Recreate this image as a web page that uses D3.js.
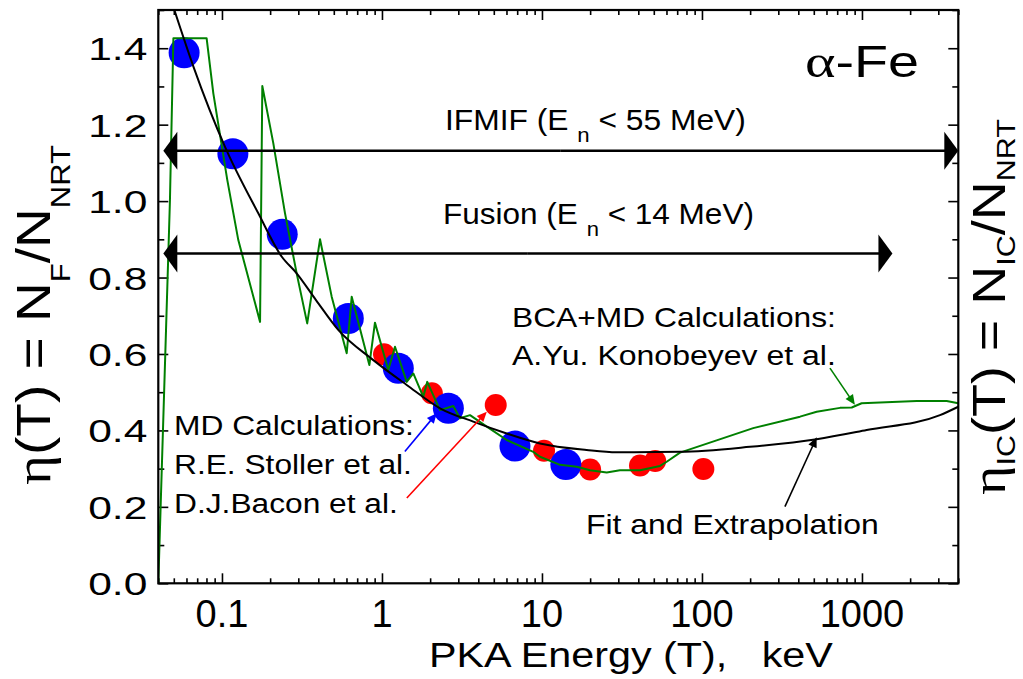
<!DOCTYPE html>
<html><head><meta charset="utf-8">
<script src="https://cdn.jsdelivr.net/npm/d3@7"></script>
<style>html,body{margin:0;padding:0;background:#fff;}svg{display:block;}</style>
</head><body>
<script>
// ---------------- data ----------------
const xDomain = [0.04, 4000];
const yDomain = [0, 1.5];
const xTickValues = [0.1, 1, 10, 100, 1000];
const xTickLabels = ["0.1", "1", "10", "100", "1000"];
const yTickValues = [0, 0.2, 0.4, 0.6, 0.8, 1.0, 1.2, 1.4];
const yTickLabels = ["0.0", "0.2", "0.4", "0.6", "0.8", "1.0", "1.2", "1.4"];
const yMinorValues = [0.1, 0.3, 0.5, 0.7, 0.9, 1.1, 1.3, 1.5];

// MD calculations, R.E. Stoller et al. (blue)
const stollerE   = [0.058, 0.117, 0.238, 0.616, 1.265, 2.60, 6.78, 14.1];
const stollerEta = [1.388, 1.124, 0.913, 0.693, 0.5625, 0.458, 0.359, 0.311];
// MD calculations, D.J. Bacon et al. (red)
const baconE   = [1.03, 2.05, 5.14, 10.3, 20, 41, 51, 102];
const baconEta = [0.599, 0.497, 0.4665, 0.347, 0.298, 0.308, 0.320, 0.299];
// BCA+MD calculations, A.Yu. Konobeyev et al. (green)
const konoE = [0.04, 0.0447, 0.0473, 0.0497, 0.0802, 0.0883, 0.108, 0.1265, 0.173, 0.1787,
  0.2094, 0.2478, 0.293, 0.341, 0.410, 0.485, 0.602, 0.647, 0.834, 0.904,
  1.095, 1.206, 1.428, 1.570, 1.812, 1.919, 2.305, 2.79, 3.07, 3.55,
  4.52, 6.02, 8.83, 9.72, 12.97, 16.5, 19.95, 25.4, 30.7, 41.0,
  54.7, 60.2, 72.9, 209, 410, 521, 729, 863, 995, 2198, 3385, 4000];
const konoEta = [0, 0.663, 1.002, 1.426, 1.426, 1.282, 1.055, 0.898, 0.684, 1.301,
  1.151, 0.968, 0.811, 0.680, 0.900, 0.750, 0.602, 0.750, 0.571, 0.682,
  0.558, 0.619, 0.527, 0.549, 0.488, 0.527, 0.453, 0.464, 0.432, 0.440,
  0.410, 0.375, 0.344, 0.331, 0.310, 0.305, 0.296, 0.290, 0.296, 0.296,
  0.307, 0.318, 0.342, 0.406, 0.436, 0.449, 0.459, 0.460, 0.471, 0.477, 0.477, 0.471];
// Fit and extrapolation (black)
const fitE   = [0.0504, 0.0663, 0.1045, 0.1687, 0.236, 0.293, 0.387, 0.533, 0.883, 1.428,
  2.305, 3.72, 6.02, 9.72, 19.0, 29.3, 72.9, 199.5, 521, 1070, 3074, 4000];
const fitEta = [1.500, 1.352, 1.142, 0.968, 0.855, 0.811, 0.741, 0.663, 0.584, 0.519,
  0.458, 0.423, 0.392, 0.366, 0.349, 0.343, 0.344, 0.357, 0.377, 0.401, 0.440, 0.462];

// range arrows
const ifmifE = [0.043, 4000], ifmifEta = 1.132;
const fusionE = [0.043, 1550], fusionEta = 0.863;

// annotation pointer arrows [E0, eta0, E1, eta1]
const pointerStoller = [1.39, 0.345, 2.20, 0.445];
const pointerBacon = [1.43, 0.223, 4.52, 0.449];
const pointerKono = [631, 0.563, 903, 0.467];
const pointerFit = [330, 0.2006, 521, 0.382];

// ---------------- drawing ----------------
const W = 1023, H = 679;
const FONT = "'Liberation Sans', Arial, Helvetica, sans-serif";
const SERIF = "'Liberation Serif', 'Times New Roman', serif";
const L = 158.3, R = 958.3, T = 10, B = 583.3;

const svg = d3.select("body").append("svg").attr("width", W).attr("height", H)
  .attr("font-family", FONT);

const x = d3.scaleLog().domain(xDomain).range([L, R]);
const y = d3.scaleLinear().domain(yDomain).range([B, T]);

svg.append("defs").append("clipPath").attr("id", "clip")
  .append("rect").attr("x", L).attr("y", T).attr("width", R - L).attr("height", B - T);

// axes ticks (inward)
const xMinor = x.ticks().filter(v => Math.abs(Math.log10(v) - Math.round(Math.log10(v))) > 1e-6);
function styleAxis(g) { g.select(".domain").remove(); g.selectAll("line").attr("stroke", "#000").attr("stroke-width", 1.6); }
svg.append("g").attr("transform", `translate(0,${B})`).call(d3.axisTop(x).tickValues(xTickValues).tickSize(10).tickFormat("")).call(styleAxis);
svg.append("g").attr("transform", `translate(0,${B})`).call(d3.axisTop(x).tickValues(xMinor).tickSize(5).tickFormat("")).call(styleAxis);
svg.append("g").attr("transform", `translate(0,${T})`).call(d3.axisBottom(x).tickValues(xTickValues).tickSize(10).tickFormat("")).call(styleAxis);
svg.append("g").attr("transform", `translate(0,${T})`).call(d3.axisBottom(x).tickValues(xMinor).tickSize(5).tickFormat("")).call(styleAxis);
svg.append("g").attr("transform", `translate(${L},0)`).call(d3.axisRight(y).tickValues(yTickValues).tickSize(10).tickFormat("")).call(styleAxis);
svg.append("g").attr("transform", `translate(${L},0)`).call(d3.axisRight(y).tickValues(yMinorValues).tickSize(6).tickFormat("")).call(styleAxis);
svg.append("g").attr("transform", `translate(${R},0)`).call(d3.axisLeft(y).tickValues(yTickValues).tickSize(10).tickFormat("")).call(styleAxis);
svg.append("g").attr("transform", `translate(${R},0)`).call(d3.axisLeft(y).tickValues(yMinorValues).tickSize(6).tickFormat("")).call(styleAxis);

// tick labels
svg.append("g").selectAll("text").data(xTickValues).join("text")
  .attr("x", d => x(d)).attr("y", B + 44).attr("text-anchor", "middle")
  .attr("font-size", 38).text((d, i) => xTickLabels[i]);
svg.append("g").selectAll("text").data(yTickValues).join("text")
  .attr("text-anchor", "end").attr("font-size", 32)
  .attr("transform", d => `translate(${L - 11},${y(d) + 12}) scale(1.33,1)`)
  .text((d, i) => yTickLabels[i]);

// data marks
const plot = svg.append("g");
plot.selectAll("circle.bacon").data(baconE).join("circle").attr("class", "bacon")
  .attr("cx", d => x(d)).attr("cy", (d, i) => y(baconEta[i])).attr("r", 11).attr("fill", "#ff0000");
plot.selectAll("circle.stoller").data(stollerE).join("circle").attr("class", "stoller")
  .attr("cx", d => x(d)).attr("cy", (d, i) => y(stollerEta[i])).attr("r", 15.5).attr("fill", "#0000ff");

const lines = svg.append("g").attr("clip-path", "url(#clip)");
lines.append("path").datum(konoE.map((e, i) => [e, konoEta[i]]))
  .attr("d", d3.line().x(d => x(d[0])).y(d => y(d[1])))
  .attr("fill", "none").attr("stroke", "#008000").attr("stroke-width", 2).attr("stroke-linejoin", "round");
lines.append("path").datum(fitE.map((e, i) => [e, fitEta[i]]))
  .attr("d", d3.line().x(d => x(d[0])).y(d => y(d[1])).curve(d3.curveMonotoneX))
  .attr("fill", "none").attr("stroke", "#000").attr("stroke-width", 2);

// frame
svg.append("rect").attr("x", L).attr("y", T).attr("width", R - L).attr("height", B - T)
  .attr("fill", "none").attr("stroke", "#000").attr("stroke-width", 2.2);

// arrows
function arrow(x1, y1, x2, y2, color, len, hw, sw) {
  const dx = x2 - x1, dy = y2 - y1, d = Math.hypot(dx, dy), ux = dx / d, uy = dy / d;
  const bx = x2 - ux * len, by = y2 - uy * len;
  svg.append("line").attr("x1", x1).attr("y1", y1).attr("x2", bx + ux * 1).attr("y2", by + uy * 1)
    .attr("stroke", color).attr("stroke-width", sw);
  svg.append("path").attr("d", `M${x2},${y2}L${bx - uy * hw},${by + ux * hw}L${bx + uy * hw},${by - ux * hw}Z`)
    .attr("fill", color);
}
function doubleArrow(E, eta) {
  const xa = x(E[0]), xb = x(E[1]), yy = y(eta);
  arrow((xa + xb) / 2, yy, xb, yy, "#000", 14, 19, 2.5);
  arrow((xa + xb) / 2, yy, xa, yy, "#000", 14, 19, 2.5);
}
doubleArrow(ifmifE, ifmifEta);
doubleArrow(fusionE, fusionEta);
function pointer(p, color) { arrow(x(p[0]), y(p[1]), x(p[2]), y(p[3]), color, 10, 4.5, 1.6); }
pointer(pointerStoller, "#0000ff");
pointer(pointerBacon, "#ff0000");
pointer(pointerKono, "#008000");
pointer(pointerFit, "#000");

// rich text helper
function rich(parts, o) {
  const t = svg.append("text").attr("font-family", FONT).attr("fill", "#000").style("white-space", "pre");
  parts.forEach(p => {
    const s = t.append("tspan").attr("font-size", p.s).attr("dy", p.dy || 0).text(p.t);
    if (p.f) s.attr("font-family", p.f);
  });
  const w = t.node().getComputedTextLength();
  const sx = o.w ? o.w / w : 1;
  t.attr("transform", `translate(${o.x},${o.y}) rotate(${o.r || 0}) scale(${sx},1)`);
  return t;
}

rich([{t: "α", s: 46, f: SERIF}, {t: "-Fe", s: 44}], {x: 805, y: 77, w: 114});
rich([{t: "IFMIF (E ", s: 30}, {t: "n", s: 21, dy: 12}, {t: " < 55 MeV)", s: 30, dy: -12}], {x: 445, y: 130, w: 301});
rich([{t: "Fusion (E ", s: 30}, {t: "n", s: 21, dy: 12}, {t: " < 14 MeV)", s: 30, dy: -12}], {x: 443, y: 224, w: 311});
rich([{t: "MD Calculations:", s: 28}], {x: 174, y: 435, w: 240});
rich([{t: "R.E. Stoller et al.", s: 28}], {x: 174, y: 473.5, w: 238});
rich([{t: "D.J.Bacon et al.", s: 28}], {x: 174, y: 513, w: 224});
rich([{t: "BCA+MD Calculations:", s: 28}], {x: 512, y: 327, w: 324});
rich([{t: "A.Yu. Konobeyev et al.", s: 28}], {x: 512, y: 365, w: 324});
rich([{t: "Fit and Extrapolation", s: 28}], {x: 586, y: 533.5, w: 293});
rich([{t: "PKA Energy (T),   keV", s: 35}], {x: 429, y: 667, w: 404});

rich([{t: "η", s: 50, f: SERIF}, {t: "(T) = N", s: 48}, {t: "F", s: 27, dy: 20}, {t: "/N", s: 48, dy: -20}, {t: "NRT", s: 27, dy: 20}],
  {x: 50, y: 485, r: -90, w: 340});
rich([{t: "η", s: 48, f: SERIF}, {t: "IC", s: 26, dy: 10}, {t: "(T) = N", s: 46, dy: -10}, {t: "IC", s: 26, dy: 10}, {t: "/N", s: 46, dy: -10}, {t: "NRT", s: 26, dy: 10}],
  {x: 1005, y: 495, r: -90, w: 376});
</script>
</body></html>
